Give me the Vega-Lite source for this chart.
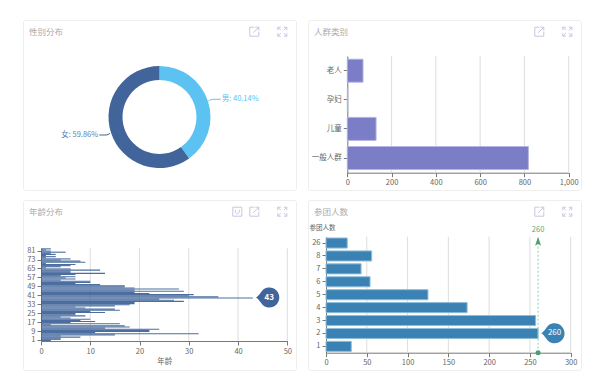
{"$schema":"https://vega.github.io/schema/vega-lite/v6.json","padding":{"left":22,"top":19,"right":0,"bottom":0},"background":"white","columns":2,"spacing":{"row":8,"column":10},"resolve":{"scale":{"x":"independent","y":"independent","color":"independent","theta":"independent"}},"config":{"view":{"stroke":"#eeeeee","fill":"white","cornerRadius":2},"font":"Noto Sans CJK SC","axis":{"labelFont":"Noto Sans CJK SC","titleFont":"Noto Sans CJK SC","labelFontSize":7.5,"labelColor":"#666666","titleColor":"#666666","titleFontSize":7.5,"titleFontWeight":"normal","domainColor":"#777777","tickColor":"#777777","tickSize":4,"labelPadding":2,"grid":false,"labelOverlap":false,"labelFlush":false},"text":{"font":"Noto Sans CJK SC"}},"concat":[
{"width":273,"height":170,"resolve":{"scale":{"x":"independent","y":"independent"}},"layer":[
{"data":{"values":[{"title":"性别分布"}]},"mark":{"type":"text","align":"left","baseline":"middle","fontSize":8.5,"color":"#aaaaaa"},"encoding":{"text":{"field":"title"},"x":{"field":"title","type":"nominal","axis":null,"scale":{"range":[6,6]}},"y":{"field":"title","type":"nominal","axis":null,"scale":{"range":[11.5,11.5]}}}},
{"data":{"values":[{"part":"toolbar"}]},"mark":{"type":"point","shape":"M5 0.5H0.5V9.5H9.5V5M4 6L9.5 0.5M6 0.5H9.5V4M28.5 3.5V0.5H31.5M34.5 0.5H37.5V3.5M37.5 6.5V9.5H34.5M31.5 9.5H28.5V6.5M28.5 0.5L31.5 3.5M37.5 0.5L34.5 3.5M28.5 9.5L31.5 6.5M37.5 9.5L34.5 6.5","size":4,"filled":false,"stroke":"#c5c7e4","strokeWidth":1,"opacity":1},"encoding":{"x":{"field":"part","type":"nominal","axis":null,"scale":{"range":[226.3,226.3]}},"y":{"field":"part","type":"nominal","axis":null,"scale":{"range":[6.7,6.7]}}}},
{"data":{"values":[{"gender":"男","pct":40.14},{"gender":"女","pct":59.86}]},"mark":{"type":"arc","radius":51,"radius2":37,"yOffset":12},"encoding":{"theta":{"field":"pct","type":"quantitative"},"order":{"field":"pct","sort":"ascending"},"color":{"field":"gender","type":"nominal","legend":null,"scale":{"domain":["男","女"],"range":["#5bc2f2","#41659a"]}}}},
{"data":{"values":[{"gender":"男","step":1,"lx":48.6,"ly":-16},{"gender":"男","step":2,"lx":53.6,"ly":-17.7},{"gender":"男","step":3,"lx":61,"ly":-17.7},{"gender":"女","step":1,"lx":-49.7,"ly":16.3},{"gender":"女","step":2,"lx":-53.7,"ly":18},{"gender":"女","step":3,"lx":-60.4,"ly":18}]},"mark":{"type":"line","strokeWidth":1,"interpolate":"monotone"},"encoding":{"x":{"field":"lx","type":"quantitative","axis":null,"scale":{"domain":[-136.7,136.3],"range":[0,273]}},"y":{"field":"ly","type":"quantitative","axis":null,"scale":{"domain":[-97,73],"range":[0,170]}},"order":{"field":"step"},"color":{"field":"gender","type":"nominal","legend":null,"scale":{"domain":["男","女"],"range":["#5bc2f2","#6f8ab3"]}}}},
{"data":{"values":[{"label":"男: 40.14%","lx":62,"ly":-17.7}]},"mark":{"type":"text","align":"left","baseline":"middle","fontSize":7.5,"color":"#5bc2f2"},"encoding":{"text":{"field":"label"},"x":{"field":"lx","type":"quantitative","axis":null,"scale":{"domain":[-136.7,136.3],"range":[0,273]}},"y":{"field":"ly","type":"quantitative","axis":null,"scale":{"domain":[-97,73],"range":[0,170]}}}},
{"data":{"values":[{"label":"女: 59.86%","lx":-61.5,"ly":18}]},"mark":{"type":"text","align":"right","baseline":"middle","fontSize":7.5,"color":"#5f7fae"},"encoding":{"text":{"field":"label"},"x":{"field":"lx","type":"quantitative","axis":null,"scale":{"domain":[-136.7,136.3],"range":[0,273]}},"y":{"field":"ly","type":"quantitative","axis":null,"scale":{"domain":[-97,73],"range":[0,170]}}}}
]},
{"width":273,"height":170,"resolve":{"scale":{"x":"independent","y":"independent"}},"layer":[
{"data":{"values":[{"title":"人群类别"}]},"mark":{"type":"text","align":"left","baseline":"middle","fontSize":8.5,"color":"#aaaaaa"},"encoding":{"text":{"field":"title"},"x":{"field":"title","type":"nominal","axis":null,"scale":{"range":[6,6]}},"y":{"field":"title","type":"nominal","axis":null,"scale":{"range":[11.5,11.5]}}}},
{"data":{"values":[{"part":"toolbar"}]},"mark":{"type":"point","shape":"M5 0.5H0.5V9.5H9.5V5M4 6L9.5 0.5M6 0.5H9.5V4M28.5 3.5V0.5H31.5M34.5 0.5H37.5V3.5M37.5 6.5V9.5H34.5M31.5 9.5H28.5V6.5M28.5 0.5L31.5 3.5M37.5 0.5L34.5 3.5M28.5 9.5L31.5 6.5M37.5 9.5L34.5 6.5","size":4,"filled":false,"stroke":"#c5c7e4","strokeWidth":1,"opacity":1},"encoding":{"x":{"field":"part","type":"nominal","axis":null,"scale":{"range":[226.3,226.3]}},"y":{"field":"part","type":"nominal","axis":null,"scale":{"range":[6.7,6.7]}}}},
{"data":{"values":[{"tick":200,"lo":0,"hi":1},{"tick":400,"lo":0,"hi":1},{"tick":600,"lo":0,"hi":1},{"tick":800,"lo":0,"hi":1},{"tick":1000,"lo":0,"hi":1}]},"mark":{"type":"rule","color":"#dddddd","strokeWidth":1},"encoding":{"x":{"field":"tick","type":"quantitative","axis":null,"scale":{"domain":[0,1000],"range":[39.3,260.7]}},"y":{"field":"lo","type":"quantitative","axis":null,"scale":{"domain":[0,1],"range":[152.7,36]}},"y2":{"field":"hi"}}},
{"data":{"values":[{"group":"老人","count":71},{"group":"孕妇","count":2},{"group":"儿童","count":130},{"group":"一般人群","count":818}]},"mark":{"type":"bar","fill":"#7b7dc6","stroke":"#b4b5e2","strokeWidth":1},"encoding":{"x":{"field":"count","type":"quantitative","title":null,"axis":{"offset":-17.3,"values":[0,200,400,600,800,1000]},"scale":{"domain":[0,1000],"range":[39.3,260.7]}},"y":{"field":"group","type":"nominal","title":null,"axis":{"offset":-39.3},"scale":{"domain":["老人","孕妇","儿童","一般人群"],"range":[36,152.7],"paddingInner":0.21,"paddingOuter":0.11}}}}
]},
{"width":273,"height":170,"resolve":{"scale":{"x":"independent","y":"independent"}},"layer":[
{"data":{"values":[{"title":"年龄分布"}]},"mark":{"type":"text","align":"left","baseline":"middle","fontSize":8.5,"color":"#aaaaaa"},"encoding":{"text":{"field":"title"},"x":{"field":"title","type":"nominal","axis":null,"scale":{"range":[6,6]}},"y":{"field":"title","type":"nominal","axis":null,"scale":{"range":[11.5,11.5]}}}},
{"data":{"values":[{"part":"toolbar"}]},"mark":{"type":"point","shape":"M-16.5 0.5H-7.5V9.5H-16.5ZM-14 3V5.5L-12 7.5L-10 5.5V3M5 0.5H0.5V9.5H9.5V5M4 6L9.5 0.5M6 0.5H9.5V4M28.5 3.5V0.5H31.5M34.5 0.5H37.5V3.5M37.5 6.5V9.5H34.5M31.5 9.5H28.5V6.5M28.5 0.5L31.5 3.5M37.5 0.5L34.5 3.5M28.5 9.5L31.5 6.5M37.5 9.5L34.5 6.5","size":4,"filled":false,"stroke":"#c5c7e4","strokeWidth":1,"opacity":1},"encoding":{"x":{"field":"part","type":"nominal","axis":null,"scale":{"range":[226.3,226.3]}},"y":{"field":"part","type":"nominal","axis":null,"scale":{"range":[6.7,6.7]}}}},
{"data":{"values":[{"tick":10,"lo":0,"hi":1},{"tick":20,"lo":0,"hi":1},{"tick":30,"lo":0,"hi":1},{"tick":40,"lo":0,"hi":1},{"tick":50,"lo":0,"hi":1}]},"mark":{"type":"rule","color":"#dddddd","strokeWidth":1},"encoding":{"x":{"field":"tick","type":"quantitative","axis":null,"scale":{"domain":[0,50],"range":[18,264.3]}},"y":{"field":"lo","type":"quantitative","axis":null,"scale":{"domain":[0,1],"range":[141,48.3]}},"y2":{"field":"hi"}}},
{"data":{"values":[{"age":1,"n":2},{"age":2,"n":4},{"age":3,"n":4},{"age":4,"n":8},{"age":5,"n":4},{"age":6,"n":15},{"age":7,"n":32},{"age":8,"n":11},{"age":9,"n":22},{"age":10,"n":22},{"age":11,"n":24},{"age":12,"n":13},{"age":13,"n":18},{"age":14,"n":17},{"age":15,"n":2},{"age":16,"n":16},{"age":17,"n":6},{"age":18,"n":11},{"age":19,"n":8},{"age":20,"n":10},{"age":21,"n":6},{"age":22,"n":4},{"age":23,"n":9},{"age":24,"n":7},{"age":25,"n":7},{"age":26,"n":13},{"age":27,"n":10},{"age":28,"n":16},{"age":29,"n":15},{"age":30,"n":9},{"age":31,"n":7},{"age":32,"n":15},{"age":33,"n":18},{"age":34,"n":19},{"age":35,"n":19},{"age":36,"n":29},{"age":37,"n":27},{"age":38,"n":24},{"age":39,"n":43},{"age":40,"n":36},{"age":41,"n":30},{"age":42,"n":31},{"age":43,"n":22},{"age":44,"n":19},{"age":45,"n":29},{"age":46,"n":19},{"age":47,"n":28},{"age":48,"n":19},{"age":49,"n":17},{"age":50,"n":17},{"age":51,"n":12},{"age":52,"n":7},{"age":53,"n":10},{"age":54,"n":10},{"age":55,"n":4},{"age":56,"n":7},{"age":57,"n":5},{"age":58,"n":7},{"age":59,"n":4},{"age":60,"n":7},{"age":61,"n":13},{"age":62,"n":6},{"age":63,"n":6},{"age":64,"n":12},{"age":65,"n":6},{"age":66,"n":1},{"age":67,"n":4},{"age":68,"n":6},{"age":69,"n":7},{"age":70,"n":1},{"age":71,"n":9},{"age":72,"n":8},{"age":73,"n":4},{"age":74,"n":6},{"age":75,"n":1},{"age":76,"n":3},{"age":77,"n":1},{"age":78,"n":3},{"age":79,"n":2},{"age":80,"n":5},{"age":81,"n":2},{"age":82,"n":1},{"age":83,"n":2}]},"mark":{"type":"bar","fill":"#41659a","opacity":0.95},"encoding":{"x":{"field":"n","type":"quantitative","title":"年龄","axis":{"offset":-29,"values":[0,10,20,30,40,50],"titlePadding":3},"scale":{"domain":[0,50],"range":[18,264.3]}},"y":{"field":"age","type":"ordinal","title":null,"axis":{"offset":-18,"values":[1,9,17,25,33,41,49,57,65,73,81]},"scale":{"domain":[83,82,81,80,79,78,77,76,75,74,73,72,71,70,69,68,67,66,65,64,63,62,61,60,59,58,57,56,55,54,53,52,51,50,49,48,47,46,45,44,43,42,41,40,39,38,37,36,35,34,33,32,31,30,29,28,27,26,25,24,23,22,21,20,19,18,17,16,15,14,13,12,11,10,9,8,7,6,5,4,3,2,1],"range":[48.3,141],"paddingInner":0,"paddingOuter":0}}}},
{"data":{"values":[{"age":39,"n":43,"label":"43"}]},"mark":{"type":"point","shape":"M3 0C6 -1 8 -6 10.5 -8A10 10 0 1 1 10.5 8C8 6 6 1 3 0Z","size":4,"filled":true,"fill":"#41659a","opacity":1},"encoding":{"x":{"field":"n","type":"quantitative","axis":null,"scale":{"domain":[0,50],"range":[18,264.3]}},"y":{"field":"age","type":"ordinal","axis":null,"scale":{"domain":[39],"range":[97.5,97.5]}}}},
{"data":{"values":[{"age":39,"n":43,"label":"43"}]},"mark":{"type":"text","dx":16.5,"fontSize":8,"color":"white","fontWeight":"bold","baseline":"middle","align":"center"},"encoding":{"text":{"field":"label"},"x":{"field":"n","type":"quantitative","axis":null,"scale":{"domain":[0,50],"range":[18,264.3]}},"y":{"field":"age","type":"ordinal","axis":null,"scale":{"domain":[39],"range":[97.5,97.5]}}}}
]},
{"width":273,"height":170,"resolve":{"scale":{"x":"independent","y":"independent"}},"layer":[
{"data":{"values":[{"title":"参团人数"}]},"mark":{"type":"text","align":"left","baseline":"middle","fontSize":8.5,"color":"#aaaaaa"},"encoding":{"text":{"field":"title"},"x":{"field":"title","type":"nominal","axis":null,"scale":{"range":[6,6]}},"y":{"field":"title","type":"nominal","axis":null,"scale":{"range":[11.5,11.5]}}}},
{"data":{"values":[{"part":"toolbar"}]},"mark":{"type":"point","shape":"M5 0.5H0.5V9.5H9.5V5M4 6L9.5 0.5M6 0.5H9.5V4M28.5 3.5V0.5H31.5M34.5 0.5H37.5V3.5M37.5 6.5V9.5H34.5M31.5 9.5H28.5V6.5M28.5 0.5L31.5 3.5M37.5 0.5L34.5 3.5M28.5 9.5L31.5 6.5M37.5 9.5L34.5 6.5","size":4,"filled":false,"stroke":"#c5c7e4","strokeWidth":1,"opacity":1},"encoding":{"x":{"field":"part","type":"nominal","axis":null,"scale":{"range":[226.3,226.3]}},"y":{"field":"part","type":"nominal","axis":null,"scale":{"range":[6.7,6.7]}}}},
{"data":{"values":[{"tick":50,"lo":0,"hi":1},{"tick":100,"lo":0,"hi":1},{"tick":150,"lo":0,"hi":1},{"tick":200,"lo":0,"hi":1},{"tick":250,"lo":0,"hi":1},{"tick":300,"lo":0,"hi":1}]},"mark":{"type":"rule","color":"#dddddd","strokeWidth":1},"encoding":{"x":{"field":"tick","type":"quantitative","axis":null,"scale":{"domain":[0,300],"range":[18,262.7]}},"y":{"field":"lo","type":"quantitative","axis":null,"scale":{"domain":[0,1],"range":[152.7,36.7]}},"y2":{"field":"hi"}}},
{"data":{"values":[{"team":"26","n":26},{"team":"8","n":56},{"team":"7","n":43},{"team":"6","n":54},{"team":"5","n":125},{"team":"4","n":173},{"team":"3","n":257},{"team":"2","n":260},{"team":"1","n":31}]},"mark":{"type":"bar","fill":"#3b82b4","stroke":"#8fbcd9","strokeWidth":1},"encoding":{"x":{"field":"n","type":"quantitative","title":null,"axis":{"offset":-17.3,"values":[0,50,100,150,200,250,300]},"scale":{"domain":[0,300],"range":[18,262.7]}},"y":{"field":"team","type":"nominal","axis":{"offset":-18,"title":"参团人数","titleAngle":0,"titleX":-4,"titleY":27,"titleFontSize":6.5,"titleAlign":"center","titleBaseline":"middle"},"scale":{"domain":["26","8","7","6","5","4","3","2","1"],"range":[36.7,152.7],"paddingInner":0.22,"paddingOuter":0.1}}}},
{"data":{"values":[{"v":260,"lo":0,"hi":1,"label":"260"}]},"mark":{"type":"rule","color":"#8fcfa5","strokeWidth":1,"strokeDash":[2,2]},"encoding":{"x":{"field":"v","type":"quantitative","axis":null,"scale":{"domain":[0,300],"range":[18,262.7]}},"y":{"field":"lo","type":"quantitative","axis":null,"scale":{"domain":[0,1],"range":[152.7,36.7]}},"y2":{"field":"hi"}}},
{"data":{"values":[{"v":260,"lo":0}]},"mark":{"type":"point","shape":"circle","size":25,"filled":true,"fill":"#4e9e6f","opacity":1},"encoding":{"x":{"field":"v","type":"quantitative","axis":null,"scale":{"domain":[0,300],"range":[18,262.7]}},"y":{"field":"lo","type":"quantitative","axis":null,"scale":{"domain":[0,1],"range":[152.7,36.7]}}}},
{"data":{"values":[{"v":260,"hi":1}]},"mark":{"type":"point","shape":"M0 0L3 9L0 7L-3 9Z","size":4,"filled":true,"fill":"#4e9e6f","opacity":1},"encoding":{"x":{"field":"v","type":"quantitative","axis":null,"scale":{"domain":[0,300],"range":[18,262.7]}},"y":{"field":"hi","type":"quantitative","axis":null,"scale":{"domain":[0,1],"range":[152.7,36.7]}}}},
{"data":{"values":[{"v":260,"hi":1,"label":"260"}]},"mark":{"type":"text","dy":-7,"fontSize":7.5,"color":"#5aa97a","baseline":"middle","align":"center"},"encoding":{"text":{"field":"label"},"x":{"field":"v","type":"quantitative","axis":null,"scale":{"domain":[0,300],"range":[18,262.7]}},"y":{"field":"hi","type":"quantitative","axis":null,"scale":{"domain":[0,1],"range":[152.7,36.7]}}}},
{"data":{"values":[{"team":"2","n":260}]},"mark":{"type":"point","shape":"M3 0C6 -1 8 -6 10.5 -8A10 10 0 1 1 10.5 8C8 6 6 1 3 0Z","size":4,"filled":true,"fill":"#3b82b4","opacity":1},"encoding":{"x":{"field":"n","type":"quantitative","axis":null,"scale":{"domain":[0,300],"range":[18,262.7]}},"y":{"field":"team","type":"nominal","axis":null,"scale":{"domain":["26","8","7","6","5","4","3","2","1"],"range":[36.7,152.7],"paddingInner":0.22,"paddingOuter":0.1}}}},
{"data":{"values":[{"team":"2","n":260,"label":"260"}]},"mark":{"type":"text","dx":16.5,"fontSize":8,"color":"white","baseline":"middle","align":"center"},"encoding":{"text":{"field":"label"},"x":{"field":"n","type":"quantitative","axis":null,"scale":{"domain":[0,300],"range":[18,262.7]}},"y":{"field":"team","type":"nominal","axis":null,"scale":{"domain":["26","8","7","6","5","4","3","2","1"],"range":[36.7,152.7],"paddingInner":0.22,"paddingOuter":0.1}}}}
]}
]}
